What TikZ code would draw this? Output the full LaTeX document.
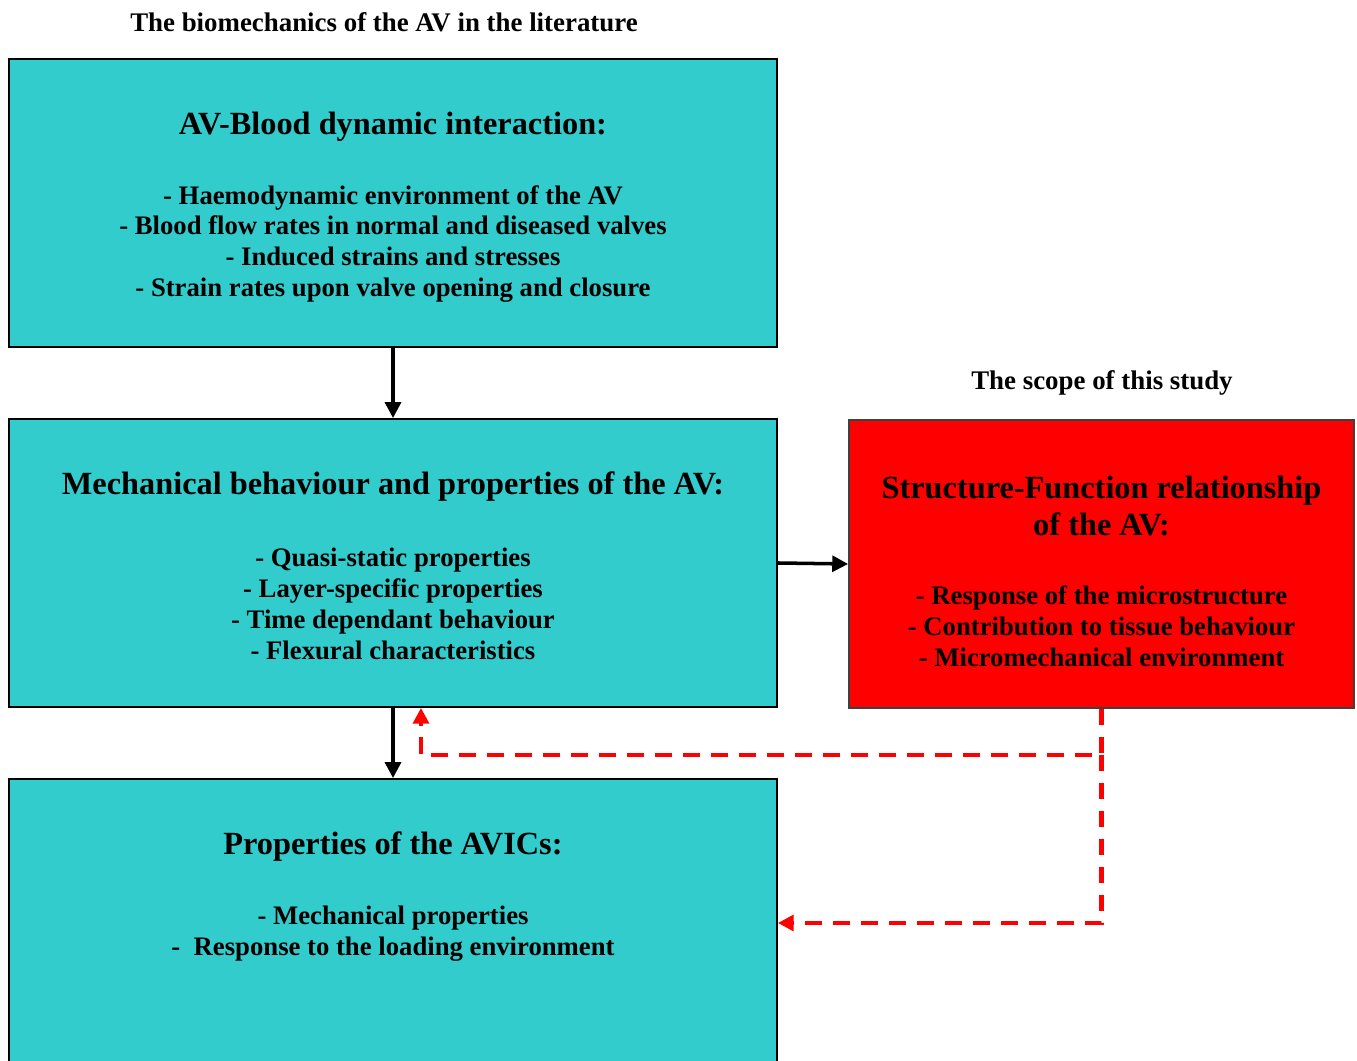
\documentclass[tikz,border=0pt]{standalone}
\usepackage{fontspec}
\setmainfont{Liberation Serif}
\usepackage{xcolor}
\usetikzlibrary{arrows.meta}
\definecolor{boxcyan}{RGB}{51,204,204}
\definecolor{boxred}{RGB}{255,0,0}

\tikzset{
  litbox/.style={draw=black,line width=1.1pt,fill=boxcyan,minimum width=15.36cm,minimum height=5.76cm,inner sep=0pt},
  scopebox/.style={draw=black!75,line width=1.1pt,fill=boxred,minimum width=10.1cm,minimum height=5.76cm,inner sep=0pt},
  headtext/.style={font=\bfseries\fontsize{18.4}{21}\selectfont,align=center,inner sep=0pt},
  listtext/.style={font=\bfseries\fontsize{15.2}{17.6}\selectfont,align=center,inner sep=0pt},
  titletext/.style={font=\bfseries\fontsize{15.3}{18}\selectfont,inner sep=0pt},
  flow/.style={-{Triangle[length=9pt,width=9pt]},line width=2pt},
  feedback/.style={-{Triangle[length=9pt,width=9pt]},line width=2.3pt,red,dash pattern=on 0.33cm off 0.23cm}
}

\begin{document}
\begin{tikzpicture}[x=0.02cm,y=0.02cm]
        \useasboundingbox (0,0) rectangle (1357,1061);
        \begin{scope}
        \clip (0,0) rectangle (1357,1061);
        % boxes
        \node[litbox] (blood) at (393,858) {};
        \node[litbox] (mech) at (393,498) {};
        \node[litbox] (avic) at (393,138) {};
        \node[scopebox] (scope) at (1101.5,497) {};
        \end{scope}
        % titles
        \node[titletext] (littitle) at (384,1039) {The biomechanics of the AV in the literature};
        \node[titletext] (scopetitle) at (1102,678) {The scope of this study};
        % texts
        \node[headtext] (bloodhead) at (393,934) {AV-Blood dynamic interaction:};
        \node[listtext] (bloodlist) at (393,817) {- Haemodynamic environment of the AV\\- Blood flow rates in normal and diseased valves\\- Induced strains and stresses\\- Strain rates upon valve opening and closure};
        \node[headtext] (mechhead) at (393,574) {Mechanical behaviour and properties of the AV:};
        \node[listtext] (mechlist) at (393,457) {- Quasi-static properties\\- Layer-specific properties\\- Time dependant behaviour\\- Flexural characteristics};
        \node[headtext] (scopehead) at (1101.5,555) {Structure-Function relationship\\of the AV:};
        \node[listtext] (scopelist) at (1101.5,435) {- Response of the microstructure\\- Contribution to tissue behaviour\\- Micromechanical environment};
        \node[headtext] (avichead) at (393,214) {Properties of the AVICs:};
        \node[listtext] (aviclist) at (393,127) {- Mechanical properties\\-\ \ Response to the loading environment};
        % arrows
        \draw[flow] (blood.south) -- (mech.north);
        \draw[flow] (mech.south) -- (avic.north);
        \draw[flow] (mech.east) -- (scope.west);
        \coordinate (split) at (scope.south |- 0,306);
        \draw[feedback] (scope.south) -- (split) -| ([xshift=0.56cm]mech.south);
        \draw[feedback] (split) |- (avic.east |- 0,138);
\end{tikzpicture}
\end{document}
